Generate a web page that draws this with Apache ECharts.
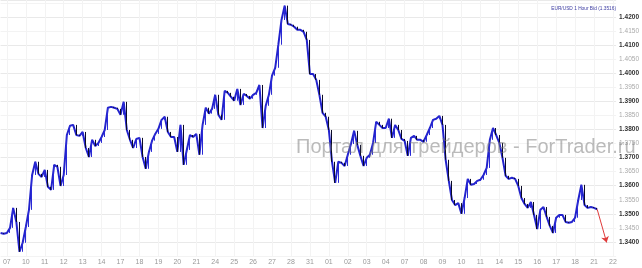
<!DOCTYPE html>
<html><head><meta charset="utf-8">
<script src="https://cdn.jsdelivr.net/npm/echarts@6/dist/echarts.min.js"></script>
<style>html,body{margin:0;padding:0;background:#fff}#c{width:642px;height:268px}</style>
</head><body><div id="c"></div>
<script>
// Day labels (one per trading day)
const dayLabels = ['07','10','11','12','13','14','17','18','19','20','21','24','25','26','27','28','31','01','02','03','04','07','08','09','10','11','14','15','16','17','18','21','22'];
const slotsPerDay = 6;
const firstLabelSlot = 2;
const slotCount = 196;
// EUR/USD closes, one per 4-hour slot
const closes = [
1.3432,1.3429,1.3432,1.3450,1.3521,1.3471,1.3365,1.3397,1.3453,1.3514,
1.3638,1.3685,1.3642,1.3631,1.3656,1.3596,1.3585,1.3674,1.3667,1.3599,
1.3638,1.3780,1.3813,1.3816,1.3780,1.3777,1.3791,1.3734,1.3702,1.3763,
1.3741,1.3752,1.3773,1.3798,1.3877,1.3880,1.3877,1.3873,1.3852,1.3898,
1.3798,1.3763,1.3734,1.3766,1.3770,1.3702,1.3660,1.3720,1.3760,1.3784,
1.3802,1.3834,1.3845,1.3791,1.3773,1.3773,1.3720,1.3816,1.3674,1.3727,
1.3780,1.3773,1.3784,1.3710,1.3816,1.3877,1.3856,1.3873,1.3923,1.3852,
1.3834,1.3937,1.3930,1.3916,1.3902,1.3944,1.3887,1.3926,1.3919,1.3909,
1.3923,1.3930,1.3958,1.3805,1.3884,1.3923,1.3991,1.4019,1.4101,1.4189,
1.4240,1.4175,1.4172,1.4165,1.4154,1.4154,1.4147,1.4118,1.3997,1.3997,
1.3976,1.3923,1.3859,1.3845,1.3798,1.3685,1.3610,1.3685,1.3681,1.3670,
1.3710,1.3748,1.3795,1.3745,1.3706,1.3670,1.3699,1.3710,1.3752,1.3827,
1.3816,1.3805,1.3805,1.3838,1.3770,1.3816,1.3798,1.3766,1.3759,1.3706,
1.3770,1.3777,1.3763,1.3763,1.3756,1.3780,1.3805,1.3834,1.3838,1.3848,
1.3816,1.3692,1.3617,1.3549,1.3531,1.3538,1.3500,1.3556,1.3624,1.3603,
1.3606,1.3617,1.3621,1.3638,1.3663,1.3763,1.3805,1.3780,1.3752,1.3699,
1.3635,1.3624,1.3628,1.3624,1.3599,1.3556,1.3535,1.3521,1.3542,1.3496,
1.3446,1.3514,1.3524,1.3489,1.3457,1.3432,1.3486,1.3496,1.3496,1.3471,
1.3468,1.3471,1.3486,1.3549,1.3603,1.3531,1.3521,1.3524,1.3521,1.3516
];
// Forecast arrow: [slot, price]
const arrowFrom = [189, 1.3516];
const arrowTo = [192, 1.3398];
const titleText = 'EUR/USD 1 Hour Bid (1.3516)';
const watermark = 'Портал для трейдеров - ForTrader.ru';
const topLabel = 1.4200;

const cats = [];
for (let i = 0; i < slotCount; i++) cats.push(String(i));
const isDay = (i) => i >= firstLabelSlot && (i - firstLabelSlot) % slotsPerDay === 0;
const candles = closes.map((c, i) => {
  const o = i === 0 ? c : closes[i - 1];
  return [o, c, Math.min(o, c), Math.max(o, c)];
});

const chart = echarts.init(document.getElementById('c'), null, {renderer: 'canvas'});
chart.setOption({
  animation: false,
  backgroundColor: '#ffffff',
  title: {
    text: titleText, right: 21, top: 1,
    textStyle: {fontSize: 4.8, color: '#3a3aa0', fontWeight: 'normal', fontFamily: 'Liberation Sans'}
  },
  grid: {left: 0, right: 24, top: 0, bottom: 12, containLabel: false},
  xAxis: {
    type: 'category', data: cats, boundaryGap: false,
    axisLine: {show: false}, axisTick: {show: false},
    axisLabel: {
      interval: (i) => isDay(i), margin: 3, fontSize: 7, color: '#999',
      fontFamily: 'Liberation Sans',
      formatter: (v, i) => isDay(i) ? dayLabels[(i - firstLabelSlot) / slotsPerDay] : ''
    },
    splitLine: {show: true, interval: (i) => isDay(i), lineStyle: {color: '#f3f3f3', width: 1}}
  },
  yAxis: {
    type: 'value', position: 'right', min: 1.3350, max: 1.4260, interval: 0.005,
    axisLine: {show: false}, axisTick: {show: false},
    splitLine: {show: true, lineStyle: {color: ['#f3f3f3', '#e9e9e9'], width: 1}},
    axisLabel: {
      margin: 3, showMinLabel: false, showMaxLabel: false, fontFamily: 'Liberation Sans',
      formatter: (v) => {
        if (v > topLabel + 0.001) return '';
        const s = v.toFixed(4);
        return Math.round(v * 200) % 2 === 0 ? '{b|' + s + '}' : '{n|' + s + '}';
      },
      rich: {
        b: {fontSize: 6.5, color: '#333', fontWeight: 'bold', fontFamily: 'Liberation Sans'},
        n: {fontSize: 6.5, color: '#aaa', fontFamily: 'Liberation Sans'}
      }
    }
  },
  graphic: [{
    type: 'text', left: 296, top: 137, z: 100,
    style: {text: watermark, fontSize: 20, fontFamily: 'Liberation Sans', fill: 'rgba(120,120,120,0.5)'}
  }],
  series: [
    {
      type: 'line', data: closes, showSymbol: false, z: 2,
      lineStyle: {color: '#2222cc', width: 2}
    },
    {
      type: 'candlestick', data: candles, barWidth: 1, z: 3,
      itemStyle: {color: '#2a2ad6', color0: '#0c0c28', borderColor: '#2a2ad6', borderColor0: '#0c0c28', borderWidth: 1}
    },
    {
      type: 'line', data: [], z: 4,
      markLine: {
        silent: true, symbol: ['none', 'arrow'], symbolSize: 6,
        label: {show: false},
        lineStyle: {color: '#e03b3b', width: 1, type: 'solid'},
        data: [[{coord: [String(arrowFrom[0]), arrowFrom[1]]}, {coord: [String(arrowTo[0]), arrowTo[1]]}]]
      }
    }
  ]
});
</script></body></html>
